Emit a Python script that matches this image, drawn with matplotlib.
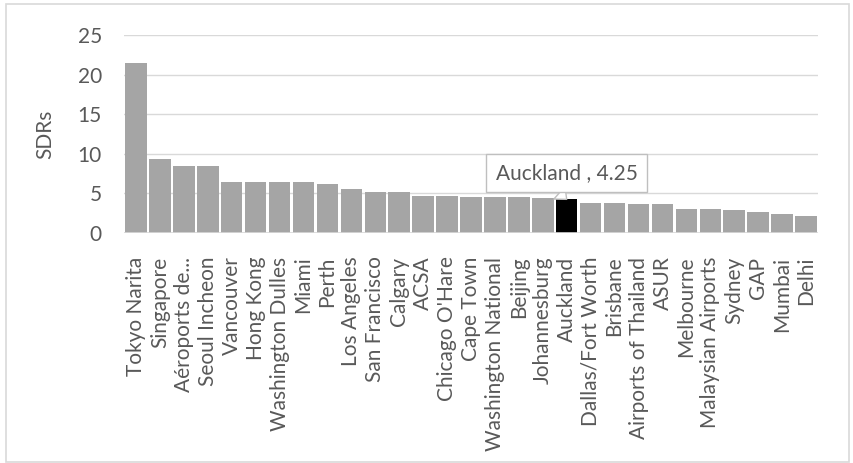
import matplotlib
matplotlib.use("Agg")
import matplotlib.pyplot as plt
import numpy as np
from matplotlib.patches import Rectangle

airports = ["Tokyo Narita", "Singapore", "Aéroports de...", "Seoul Incheon", "Vancouver",
            "Hong Kong", "Washington Dulles", "Miami", "Perth", "Los Angeles",
            "San Francisco", "Calgary", "ACSA", "Chicago O'Hare", "Cape Town",
            "Washington National", "Beijing", "Johannesburg", "Auckland",
            "Dallas/Fort Worth", "Brisbane", "Airports of Thailand", "ASUR",
            "Melbourne", "Malaysian Airports", "Sydney", "GAP", "Mumbai", "Delhi"]
sdrs = [21.5, 9.35, 8.45, 8.4, 6.5, 6.5, 6.4, 6.4, 6.2, 5.6,
        5.2, 5.2, 4.7, 4.65, 4.5, 4.5, 4.5, 4.4, 4.25,
        3.85, 3.8, 3.7, 3.6, 3.07, 3.05, 2.9, 2.65, 2.4, 2.1]
highlight = "Auckland"
yticks = [0, 5, 10, 15, 20, 25]

TXT = "#595959"; GRID = "#d9d9d9"; BAR = "#a5a5a5"
plt.rcParams["font.family"] = ["Lato", "DejaVu Sans"]

W, H = 854, 463
fig = plt.figure(figsize=(W / 100, H / 100), dpi=100)
ax = fig.add_axes([124 / W, 1 - 233 / H, (818 - 124) / W, (233 - 35) / H])

# chart area border
fig.patches.append(Rectangle((6 / W, 1 - 462 / H), (849 - 6) / W, (462 - 4) / H,
                             transform=fig.transFigure, fill=False,
                             edgecolor=GRID, linewidth=1.2))

x = np.arange(len(airports))
colors = ["black" if a == highlight else BAR for a in airports]
ax.bar(x, sdrs, width=0.9, color=colors, zorder=3)

ax.set_xlim(-0.5, len(airports) - 0.5)
ax.set_ylim(0, 25)
ax.set_yticks(yticks)
ax.set_yticklabels([str(t) for t in yticks], fontsize=15, color=TXT)
ax.set_xticks(x)
ax.set_xticklabels(airports, rotation=90, fontsize=15, color=TXT)
ax.tick_params(axis="y", length=0, pad=16)
ax.tick_params(axis="x", length=0, pad=17)
ax.grid(axis="y", color=GRID, linewidth=1, zorder=0)
for s in ax.spines.values():
    s.set_visible(False)
ax.axhline(0, color=GRID, linewidth=1.2, zorder=4)
ax.set_ylabel("SDRs", fontsize=15, color=TXT)
ax.yaxis.set_label_coords(-0.099, 0.5)

hi = airports.index(highlight)
ax.annotate(f"{highlight} , {sdrs[hi]}", xy=(hi, sdrs[hi]),
            xytext=(hi, sdrs[hi] + 3.33), ha="center", va="center",
            fontsize=15, color=TXT, zorder=6,
            bbox=dict(boxstyle="square,pad=0.45", fc="white", ec="#bfbfbf", lw=1),
            arrowprops=dict(arrowstyle="wedge,tail_width=0.8", fc="white",
                            ec="#bfbfbf", lw=1, relpos=(0.37, 0.0),
                            shrinkA=0, shrinkB=0))

fig.savefig("out.png", dpi=100, facecolor="white")
